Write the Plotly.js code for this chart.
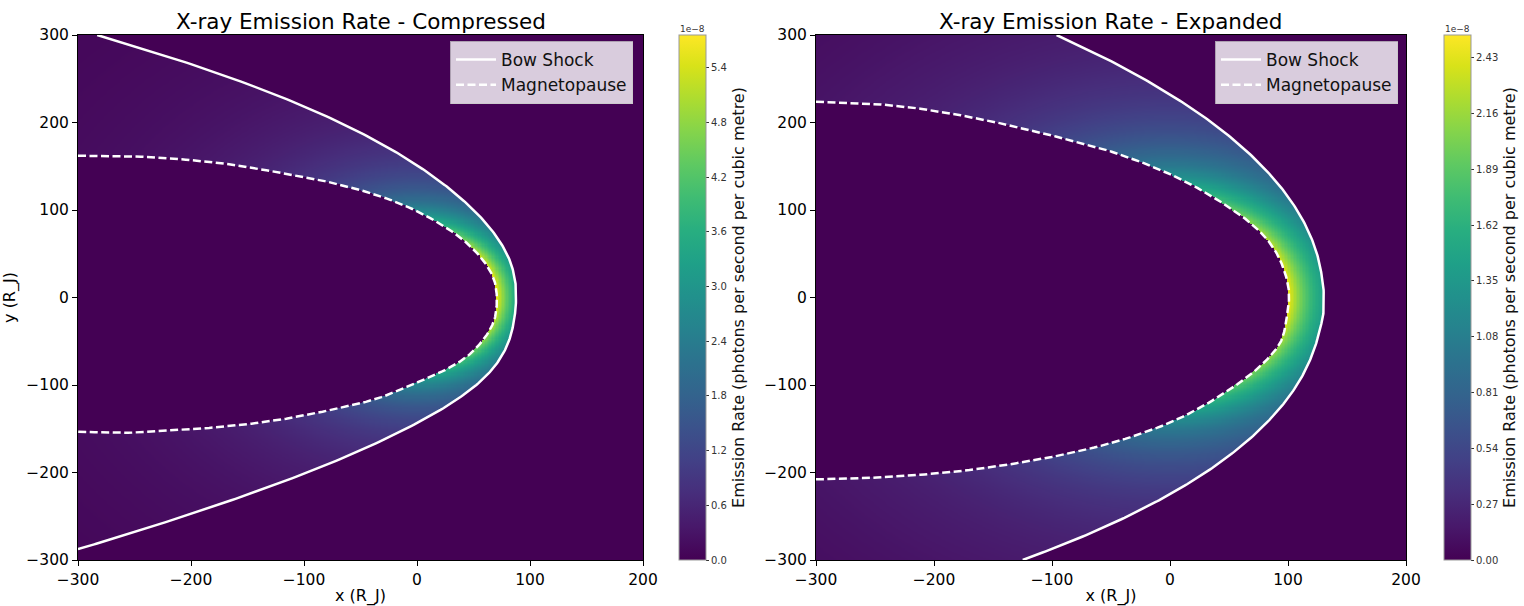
<!DOCTYPE html>
<html><head><meta charset="utf-8">
<script src="https://cdn.plot.ly/plotly-3.0.1.min.js"></script>
<style>html,body{margin:0;padding:0;background:#fff}</style>
</head><body><div id="chart" style="width:1524px;height:606px"></div>
<script>
// ---- Data (units: R_J; emission in 1e-8 photons s^-1 m^-3) ----
// Compressed case: boundary points (top to bottom)
const bowC_x = [-283, -231.8, -184.6, -141.6, -102.8, -68.2, -37.6, -10.8, 12.6, 32.8, 50, 64.2, 75.2, 82.8, 86.8, 87.3, 87.3, 86.5, 83.7, 77.9, 67.9, 52.5, 31.3, 5.1, -25.3, -59.3, -97.1, -138.6, -183.1, -230.3, -280, -300];
const bowC_y = [300, 280, 260, 240, 220, 200, 180, 160, 140, 120, 100, 80, 60, 40, 20, 14, -15, -20, -40, -60, -80, -100, -120, -140, -160, -180, -200, -220, -240, -260, -280, -287.6];
const mpC_x = [-300, -255, -211.5, -170, -126.1, -81.8, -35.7, -1.4, 29.1, 44.7, 55.9, 63.6, 68.3, 70.2, 70.7, 70.2, 68.3, 63.6, 55.9, 44.7, 29.1, -1.4, -34.5, -80, -123, -170, -211.5, -255.8, -300];
const mpC_y = [162, 161.5, 158.3, 152.9, 143.8, 133, 117.1, 99.5, 77.1, 61.5, 46.7, 33, 20, 8, -3, -14, -26, -39, -52.7, -67, -80, -98, -115.2, -129.5, -140, -147.5, -151.4, -154.5, -153.4];
// Emission rate vs distance from the planet (compressed)
const emisC_r = [60, 70, 80, 90, 100, 125, 150, 200, 250, 300, 350, 430, 600];
const emisC_v = [5.76, 5.76, 4.3, 3.3, 2.6, 1.56, 1.05, 0.55, 0.33, 0.22, 0.16, 0.10, 0.05];
const cbarC_vals = [0.0, 0.6, 1.2, 1.8, 2.4, 3.0, 3.6, 4.2, 4.8, 5.4];
const cbarC_text = ['0.0', '0.6', '1.2', '1.8', '2.4', '3.0', '3.6', '4.2', '4.8', '5.4'];
const zmaxC = 5.76;

// Expanded case: boundary points (top to bottom)
const bowE_x = [-96.1, -64.6, -35.8, -9.7, 14, 35.3, 54.1, 70.7, 85.1, 97.4, 107.6, 115.8, 122.1, 126.5, 129.2, 130, 130, 129.2, 126.5, 122, 115.8, 107.6, 97.1, 84.2, 68.9, 50.9, 30.1, 6.2, -21, -51.7, -86.2, -124.8];
const bowE_y = [300, 280, 260, 240, 220, 200, 180, 160, 140, 120, 100, 80, 60, 40, 20, 13, -18, -24, -40, -60, -80, -100, -120, -140, -160, -180, -200, -220, -240, -260, -280, -300];
const mpE_x = [-300, -255, -215.3, -170, -130.5, -90, -45.8, 0, 30, 50, 65, 80, 90.4, 96.5, 100.3, 100.8, 99.4, 97.5, 93.2, 80, 62.1, 30, 0, -45.8, -90, -130.5, -170, -215.3, -255, -300];
const mpE_y = [223.8, 221.6, 216.4, 206.4, 195, 181.6, 165, 141, 120, 103, 88.6, 70, 50.5, 32, 12.3, -3, -18.1, -35, -52.3, -74, -94.3, -122.5, -143, -164.8, -179.4, -189.5, -197.2, -203, -206.2, -207.8];
// Emission rate vs distance from the planet (expanded)
const emisE_r = [80, 100, 110, 120, 130, 150, 200, 250, 300, 350, 430, 600];
const emisE_v = [2.54, 2.54, 2.05, 1.7, 1.44, 1.03, 0.54, 0.32, 0.21, 0.15, 0.09, 0.045];
const cbarE_vals = [0.0, 0.27, 0.54, 0.81, 1.08, 1.35, 1.62, 1.89, 2.16, 2.43];
const cbarE_text = ['0.00', '0.27', '0.54', '0.81', '1.08', '1.35', '1.62', '1.89', '2.16', '2.43'];
const zmaxE = 2.54;

const titles = ['X-ray Emission Rate - Compressed', 'X-ray Emission Rate - Expanded'];
const cbTitle = 'Emission Rate (photons per second per cubic metre)';
const axisX = 'x (R_J)', axisY = 'y (R_J)';

// ---- helpers: smooth curve through the read points (centripetal Catmull-Rom) ----
function densify(xa, ya, n) {
  const P = xa.map((x, i) => [x, ya[i]]);
  const m = P.length;
  const ext = [[2 * P[0][0] - P[1][0], 2 * P[0][1] - P[1][1]], ...P, [2 * P[m - 1][0] - P[m - 2][0], 2 * P[m - 1][1] - P[m - 2][1]]];
  const ox = [], oy = [];
  const d = (a, b) => Math.max(Math.sqrt(Math.hypot(b[0] - a[0], b[1] - a[1])), 1e-6);
  for (let i = 1; i < ext.length - 2; i++) {
    const p0 = ext[i - 1], p1 = ext[i], p2 = ext[i + 1], p3 = ext[i + 2];
    const t0 = 0, t1 = t0 + d(p0, p1), t2 = t1 + d(p1, p2), t3 = t2 + d(p2, p3);
    for (let k = 0; k < n; k++) {
      const t = t1 + (t2 - t1) * k / n;
      const L = (a, b, ta, tb) => [0, 1].map(j => ((tb - t) * a[j] + (t - ta) * b[j]) / (tb - ta));
      const A1 = L(p0, p1, t0, t1), A2 = L(p1, p2, t1, t2), A3 = L(p2, p3, t2, t3);
      const B1 = L(A1, A2, t0, t2), B2 = L(A2, A3, t1, t3);
      const C = L(B1, B2, t1, t2);
      ox.push(C[0]); oy.push(C[1]);
    }
  }
  ox.push(P[m - 1][0]); oy.push(P[m - 1][1]);
  return [ox, oy];
}
function polarTable(xa, ya) {
  const t = xa.map((x, i) => [Math.atan2(ya[i], x) * 180 / Math.PI, Math.hypot(x, ya[i])]);
  t.sort((a, b) => a[0] - b[0]);
  return t;
}
function interpR(tab, th) {
  const n = tab.length;
  if (th < tab[0][0] || th > tab[n - 1][0]) return Infinity;
  let lo = 0, hi = n - 1;
  while (hi - lo > 1) { const mid = (lo + hi) >> 1; if (tab[mid][0] <= th) lo = mid; else hi = mid; }
  const f = (th - tab[lo][0]) / ((tab[hi][0] - tab[lo][0]) || 1);
  return tab[lo][1] + f * (tab[hi][1] - tab[lo][1]);
}
function emission(rArr, vArr, r) {
  if (r <= rArr[0]) return vArr[0];
  for (let i = 0; i < rArr.length - 1; i++) {
    if (r <= rArr[i + 1]) {
      const f = Math.log(r / rArr[i]) / Math.log(rArr[i + 1] / rArr[i]);
      return Math.exp(Math.log(vArr[i]) + f * Math.log(vArr[i + 1] / vArr[i]));
    }
  }
  return vArr[vArr.length - 1];
}
const gx = [], gy = [];
for (let x = -300; x <= 200; x += 1.25) gx.push(x);
for (let y = -300; y <= 300; y += 1.25) gy.push(y);
function field(bow, mp, er, ev) {
  const bt = polarTable(bow[0], bow[1]), mt = polarTable(mp[0], mp[1]);
  return gy.map(y => gx.map(x => {
    const th = Math.atan2(y, x) * 180 / Math.PI, r = Math.hypot(x, y);
    const rm = interpR(mt, th), rb = interpR(bt, th);
    return (r > rm && r < rb) ? emission(er, ev, r) : 0;
  }));
}
const bowC = densify(bowC_x, bowC_y, 12), mpC = densify(mpC_x, mpC_y, 12);
const bowE = densify(bowE_x, bowE_y, 12), mpE = densify(mpE_x, mpE_y, 12);

const yDom = [1 - 560 / 606, 1 - 35 / 606];
function cbar(xpx, vals, text) {
  return {
    x: xpx / 1524, xanchor: 'left', xpad: 0, ypad: 0,
    y: yDom[0], yanchor: 'bottom', len: 525, lenmode: 'pixels',
    thickness: 27, thicknessmode: 'pixels',
    outlinecolor: '#999', outlinewidth: 1,
    tickvals: vals, ticktext: text, ticks: 'outside', ticklen: 3, tickcolor: '#333',
    tickfont: { size: 10, color: '#333', family: 'DejaVu Sans' },
    title: { text: cbTitle, side: 'right', font: { size: 16, color: '#111', family: 'DejaVu Sans' } }
  };
}
const lineW = 2.5, dashP = '8px,3.5px';
const traces = [
  { type: 'heatmap', x: gx, y: gy, z: field(bowC, mpC, emisC_r, emisC_v),
    colorscale: 'Viridis', zmin: 0, zmax: zmaxC, hoverinfo: 'skip', showlegend: false,
    colorbar: cbar(679, cbarC_vals, cbarC_text), xaxis: 'x', yaxis: 'y' },
  { type: 'heatmap', x: gx, y: gy, z: field(bowE, mpE, emisE_r, emisE_v),
    colorscale: 'Viridis', zmin: 0, zmax: zmaxE, hoverinfo: 'skip', showlegend: false,
    colorbar: cbar(1444, cbarE_vals, cbarE_text), xaxis: 'x2', yaxis: 'y2' },
  { type: 'scatter', mode: 'lines', x: bowC[0], y: bowC[1], name: 'Bow Shock',
    line: { color: '#fff', width: lineW }, xaxis: 'x', yaxis: 'y', legend: 'legend', hoverinfo: 'skip' },
  { type: 'scatter', mode: 'lines', x: mpC[0], y: mpC[1], name: 'Magnetopause',
    line: { color: '#fff', width: lineW, dash: dashP }, xaxis: 'x', yaxis: 'y', legend: 'legend', hoverinfo: 'skip' },
  { type: 'scatter', mode: 'lines', x: bowE[0], y: bowE[1], name: 'Bow Shock',
    line: { color: '#fff', width: lineW }, xaxis: 'x2', yaxis: 'y2', legend: 'legend2', hoverinfo: 'skip' },
  { type: 'scatter', mode: 'lines', x: mpE[0], y: mpE[1], name: 'Magnetopause',
    line: { color: '#fff', width: lineW, dash: dashP }, xaxis: 'x2', yaxis: 'y2', legend: 'legend2', hoverinfo: 'skip' }
];

const tickF = { size: 15.5, color: '#000', family: 'DejaVu Sans' };
function xax(dom, anchor) {
  return { domain: dom, anchor: anchor, range: [-300, 200], tickvals: [-300, -200, -100, 0, 100, 200],
    ticks: 'outside', ticklen: 5, tickcolor: '#000', tickfont: tickF, showgrid: false, zeroline: false,
    showline: true, mirror: true, linecolor: '#000', linewidth: 1,
    title: { text: axisX, font: { size: 16, color: '#000', family: 'DejaVu Sans' }, standoff: 3 } };
}
function yax(anchor, withTitle) {
  const a = { domain: yDom, anchor: anchor, range: [-300, 300], tickvals: [-300, -200, -100, 0, 100, 200, 300],
    ticks: 'outside', ticklen: 5, tickcolor: '#000', tickfont: tickF, showgrid: false, zeroline: false,
    showline: true, mirror: true, linecolor: '#000', linewidth: 1 };
  if (withTitle) a.title = { text: axisY, font: { size: 16, color: '#000', family: 'DejaVu Sans' }, standoff: 6 };
  return a;
}
function leg(xpx) {
  return { x: xpx / 1524, xanchor: 'right', y: 1 - 41 / 606, yanchor: 'top',
    bgcolor: 'rgba(255,255,255,0.8)', bordercolor: 'rgba(200,200,200,0.8)', borderwidth: 1,
    font: { size: 17, color: '#111', family: 'DejaVu Sans' }, itemwidth: 40, tracegroupgap: 0 };
}
const layout = {
  width: 1524, height: 606, margin: { l: 0, r: 0, t: 0, b: 0 },
  paper_bgcolor: '#fff', plot_bgcolor: '#440154',
  font: { family: 'DejaVu Sans' },
  xaxis: xax([78 / 1524, 643 / 1524], 'y'),
  yaxis: yax('x', true),
  xaxis2: xax([816 / 1524, 1406 / 1524], 'y2'),
  yaxis2: yax('x2', false),
  legend: leg(633), legend2: leg(1398),
  annotations: [
    { text: titles[0], xref: 'paper', yref: 'paper', x: 360.5 / 1524, y: 1 - 21 / 606, xanchor: 'center', yanchor: 'middle', showarrow: false, font: { size: 21.5, color: '#000', family: 'DejaVu Sans' } },
    { text: titles[1], xref: 'paper', yref: 'paper', x: 1111 / 1524, y: 1 - 21 / 606, xanchor: 'center', yanchor: 'middle', showarrow: false, font: { size: 21.5, color: '#000', family: 'DejaVu Sans' } },
    { text: '1e\u22128', xref: 'paper', yref: 'paper', x: 692 / 1524, y: 1 - 29 / 606, xanchor: 'center', yanchor: 'middle', showarrow: false, font: { size: 9, color: '#333', family: 'DejaVu Sans' } },
    { text: '1e\u22128', xref: 'paper', yref: 'paper', x: 1457 / 1524, y: 1 - 29 / 606, xanchor: 'center', yanchor: 'middle', showarrow: false, font: { size: 9, color: '#333', family: 'DejaVu Sans' } }
  ]
};
Plotly.newPlot('chart', traces, layout, { displayModeBar: false, staticPlot: true });
</script></body></html>
